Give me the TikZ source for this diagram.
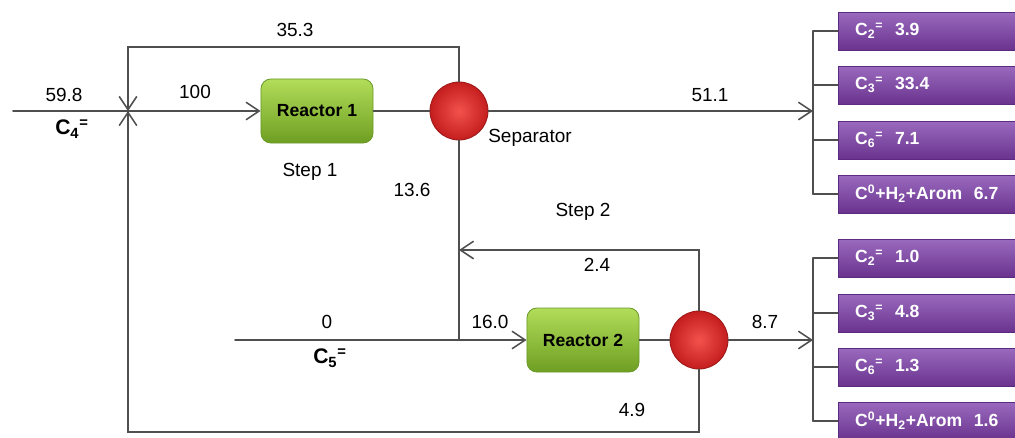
\documentclass[tikz,border=0pt]{standalone}
\usepackage{fontspec}
\setmainfont{Liberation Sans}
\usetikzlibrary{arrows.meta}
\usepackage{xcolor}
\definecolor{flowgray}{HTML}{4F4F4F}
\definecolor{reacttop}{HTML}{B2DD5A}
\definecolor{reactbot}{HTML}{6E9E22}
\definecolor{reactedge}{HTML}{6A9A2A}
\definecolor{septop}{HTML}{F2524C}
\definecolor{sepbot}{HTML}{C41E1E}
\definecolor{prodtop}{HTML}{9A6ABE}
\definecolor{prodbot}{HTML}{6A338E}
\definecolor{prodedge}{HTML}{5C2A7E}
\newcommand{\olef}[1]{C\textsubscript{#1}\textsuperscript{=}}

\begin{document}
\begin{tikzpicture}[x=0.025cm,y=-0.025cm,>={Straight Barb[length=3.3mm,width=4.4mm]},
  font=\fontsize{13.5}{16}\selectfont,line cap=round,
  flow/.style={draw=flowgray,line width=1.1pt},
  reactor/.style={rectangle,rounded corners=7pt,draw=reactedge,line width=0.6pt,
    top color=reacttop,bottom color=reactbot,minimum width=28mm,minimum height=16mm,
    font=\fontsize{12.5}{15}\selectfont\bfseries},
  sepball/.style={circle,draw=sepbot!80!black,line width=0.6pt,inner sep=0pt,minimum size=14.5mm,
    shading=radial,inner color=septop,outer color=sepbot},
  product/.style={rectangle,anchor=west,draw=prodedge,line width=0.6pt,top color=prodtop,
    bottom color=prodbot,minimum width=50mm,minimum height=9.5mm,text width=42mm,align=left,
    inner xsep=4.2mm,text=white,font=\fontsize{12.5}{15}\selectfont\bfseries},
  lbl/.style={inner sep=1pt}]
\useasboundingbox (0,0) rectangle (1015,437);

% units
\node[reactor] (r1) at (317,111) {Reactor 1};
\node[sepball] (s1) at (459,111) {};
\node[reactor] (r2) at (583,340) {Reactor 2};
\node[sepball] (s2) at (699,340) {};

% products of step 1
\node[product] (p1a) at (838,31) {\olef{2}\ \ 3.9};
\node[product] (p1b) at (838,85) {\olef{3}\ \ 33.4};
\node[product] (p1c) at (838,140) {\olef{6}\ \ 7.1};
\node[product] (p1d) at (838,194) {C\textsuperscript{0}+H\textsubscript{2}+Arom\ \ 6.7};

% products of step 2
\node[product] (p2a) at (838,258) {\olef{2}\ \ 1.0};
\node[product] (p2b) at (838,313) {\olef{3}\ \ 4.8};
\node[product] (p2c) at (838,367) {\olef{6}\ \ 1.3};
\node[product] (p2d) at (838,421) {C\textsuperscript{0}+H\textsubscript{2}+Arom\ \ 1.6};

% points of the lines
\coordinate (feed4) at (13,111);
\coordinate (mix) at (128,111);
\coordinate (feed5) at (235,340);
\coordinate (join) at (459,340);
\coordinate (back2) at (459,250);
\coordinate (out1) at (813,111);
\coordinate (out2) at (813,340);

% step 1
\draw[flow,->] (feed4) -- (r1.west);
\draw[flow] (r1.east) -- (s1.west);
\draw[flow,->] (s1.north) |- (mix |- 0,47) -- (mix);
\draw[flow,->] (s1.east) -- (out1);
\draw[flow] (s1.south) -- (join);
\draw[flow] (out1 |- p1a.west) -- (out1 |- p1d.west);
\draw[flow] (out1 |- p1a.west) -- (p1a.west);
\draw[flow] (out1 |- p1b.west) -- (p1b.west);
\draw[flow] (out1 |- p1c.west) -- (p1c.west);
\draw[flow] (out1 |- p1d.west) -- (p1d.west);

% step 2
\draw[flow,->] (feed5) -- (r2.west);
\draw[flow] (r2.east) -- (s2.west);
\draw[flow,->] (s2.north) |- (back2);
\draw[flow,->] (s2.south) |- (mix |- 0,432) -- (mix);
\draw[flow,->] (s2.east) -- (out2);
\draw[flow] (out2 |- p2a.west) -- (out2 |- p2d.west);
\draw[flow] (out2 |- p2a.west) -- (p2a.west);
\draw[flow] (out2 |- p2b.west) -- (p2b.west);
\draw[flow] (out2 |- p2c.west) -- (p2c.west);
\draw[flow] (out2 |- p2d.west) -- (p2d.west);

% labels
\node[lbl] (l353) at (295,30) {35.3};
\node[lbl] (l598) at (64,95) {59.8};
\node[lbl,font=\fontsize{15}{17}\selectfont\bfseries] (lc4) at (72,129) {\olef{4}};
\node[lbl] (l100) at (195,92) {100};
\node[lbl] (lsep) at (530,138) {Separator};
\node[lbl] (lst1) at (310,172) {Step 1};
\node[lbl] (l136) at (412,190) {13.6};
\node[lbl] (l511) at (710,95) {51.1};
\node[lbl] (lst2) at (583,212) {Step 2};
\node[lbl] (l24) at (597,265) {2.4};
\node[lbl] (l0) at (327,322) {0};
\node[lbl,font=\fontsize{15}{17}\selectfont\bfseries] (lc5) at (330,358) {\olef{5}};
\node[lbl] (l160) at (490,322) {16.0};
\node[lbl] (l87) at (765,322) {8.7};
\node[lbl] (l49) at (632,410) {4.9};
\end{tikzpicture}
\end{document}
